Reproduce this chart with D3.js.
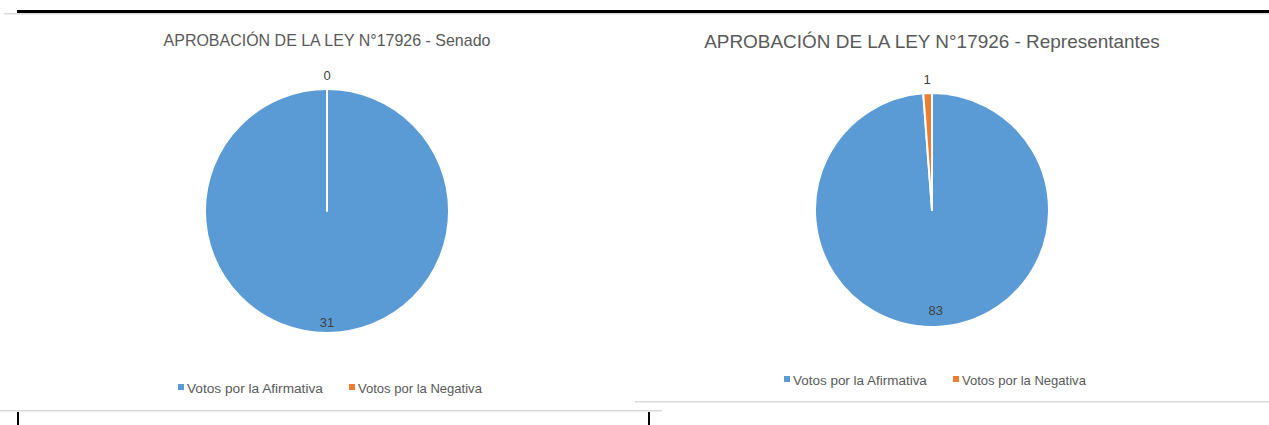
<!DOCTYPE html>
<html><head><meta charset="utf-8">
<script src="https://cdn.jsdelivr.net/npm/d3@7"></script>
<style>body{margin:0;background:#fff}svg{display:block}text{font-family:"Liberation Sans Narrow","Liberation Sans",Arial,sans-serif}</style>
</head><body>
<svg id="c" width="1269" height="425"></svg>
<script>
const categories = ["Votos por la Afirmativa", "Votos por la Negativa"];
const senadoValues = [31, 0];
const representantesValues = [83, 1];
const titles = ["APROBACIÓN DE LA LEY N°17926 - Senado", "APROBACIÓN DE LA LEY N°17926 - Representantes"];
const colors = ["#5B9BD5", "#ED7D31"];

const svg = d3.select("#c");
// frame lines
svg.append("rect").attr("x",4).attr("y",13).attr("width",1265).attr("height",1.5).attr("fill","#d9d9d9");
svg.append("rect").attr("x",17).attr("y",10).attr("width",1252).attr("height",3).attr("fill","#000");
svg.append("rect").attr("x",0).attr("y",410).attr("width",662).attr("height",1.5).attr("fill","#d9d9d9");
svg.append("rect").attr("x",635).attr("y",401).attr("width",634).attr("height",1.5).attr("fill","#d9d9d9");
svg.append("rect").attr("x",17).attr("y",412).attr("width",2).attr("height",13).attr("fill","#000");
svg.append("rect").attr("x",648).attr("y",412).attr("width",2).attr("height",13).attr("fill","#000");

const legendWidths = [[136, 124], [134, 124]];
const charts = [
  {values: senadoValues, title: titles[0], cx: 327, cy: 211, r: 122, ty: 46, tsize: 15.5, tw: 327, ly: 388, inR: 0.91, legendX: [178, 349]},
  {values: representantesValues, title: titles[1], cx: 932, cy: 210, r: 117, ty: 48, tsize: 18, tw: 456, ly: 380, inR: 0.855, legendX: [784, 953]}
];

charts.forEach((ch, ci) => {
  const g = svg.append("g");
  const t = g.append("text").attr("x", ch.cx).attr("y", ch.ty).attr("text-anchor","middle")
    .attr("fill","#595959").style("font-size", ch.tsize+"px").text(ch.title);
  const w = t.node().getComputedTextLength();
  t.style("font-size", (ch.tsize * ch.tw / w) + "px");

  const pie = d3.pie().sort(null).value(d => d.v).startAngle(0).endAngle(2*Math.PI);
  const data = ch.values.map((v,i) => ({v, c: categories[i], i}));
  const arcs = pie(data);
  const arc = d3.arc().innerRadius(0).outerRadius(ch.r);
  const pg = g.append("g").attr("transform", `translate(${ch.cx},${ch.cy})`);
  pg.selectAll("path").data(arcs).join("path")
    .attr("d", arc).attr("fill", d => colors[d.data.i])
    .attr("stroke","#fff").attr("stroke-width",2).attr("stroke-linejoin","round");

  const total = d3.sum(ch.values);
  pg.selectAll("text").data(arcs).join("text")
    .attr("transform", d => {
      const a = (d.startAngle + d.endAngle)/2;
      const big = (d.data.v/total) > 0.5;
      const rr = big ? ch.r*ch.inR : ch.r + 14;
      return `translate(${Math.sin(a)*rr},${-Math.cos(a)*rr})`;
    })
    .attr("text-anchor","middle").attr("dy","0.35em")
    .attr("fill","#404040").style("font-size","13px").text(d => d.data.v);

  const lg = g.append("g");
  categories.forEach((c,i) => {
    lg.append("rect").attr("x", ch.legendX[i]).attr("y", ch.ly-4).attr("width",6).attr("height",6).attr("fill",colors[i]);
    const lt = lg.append("text").attr("x", ch.legendX[i]+9).attr("y", ch.ly).attr("dy","0.35em")
      .attr("fill","#595959").style("font-size","13px").text(c);
    const lw = lt.node().getComputedTextLength();
    lt.style("font-size", (13*legendWidths[ci][i]/lw)+"px");
  });
});
</script>
</body></html>
